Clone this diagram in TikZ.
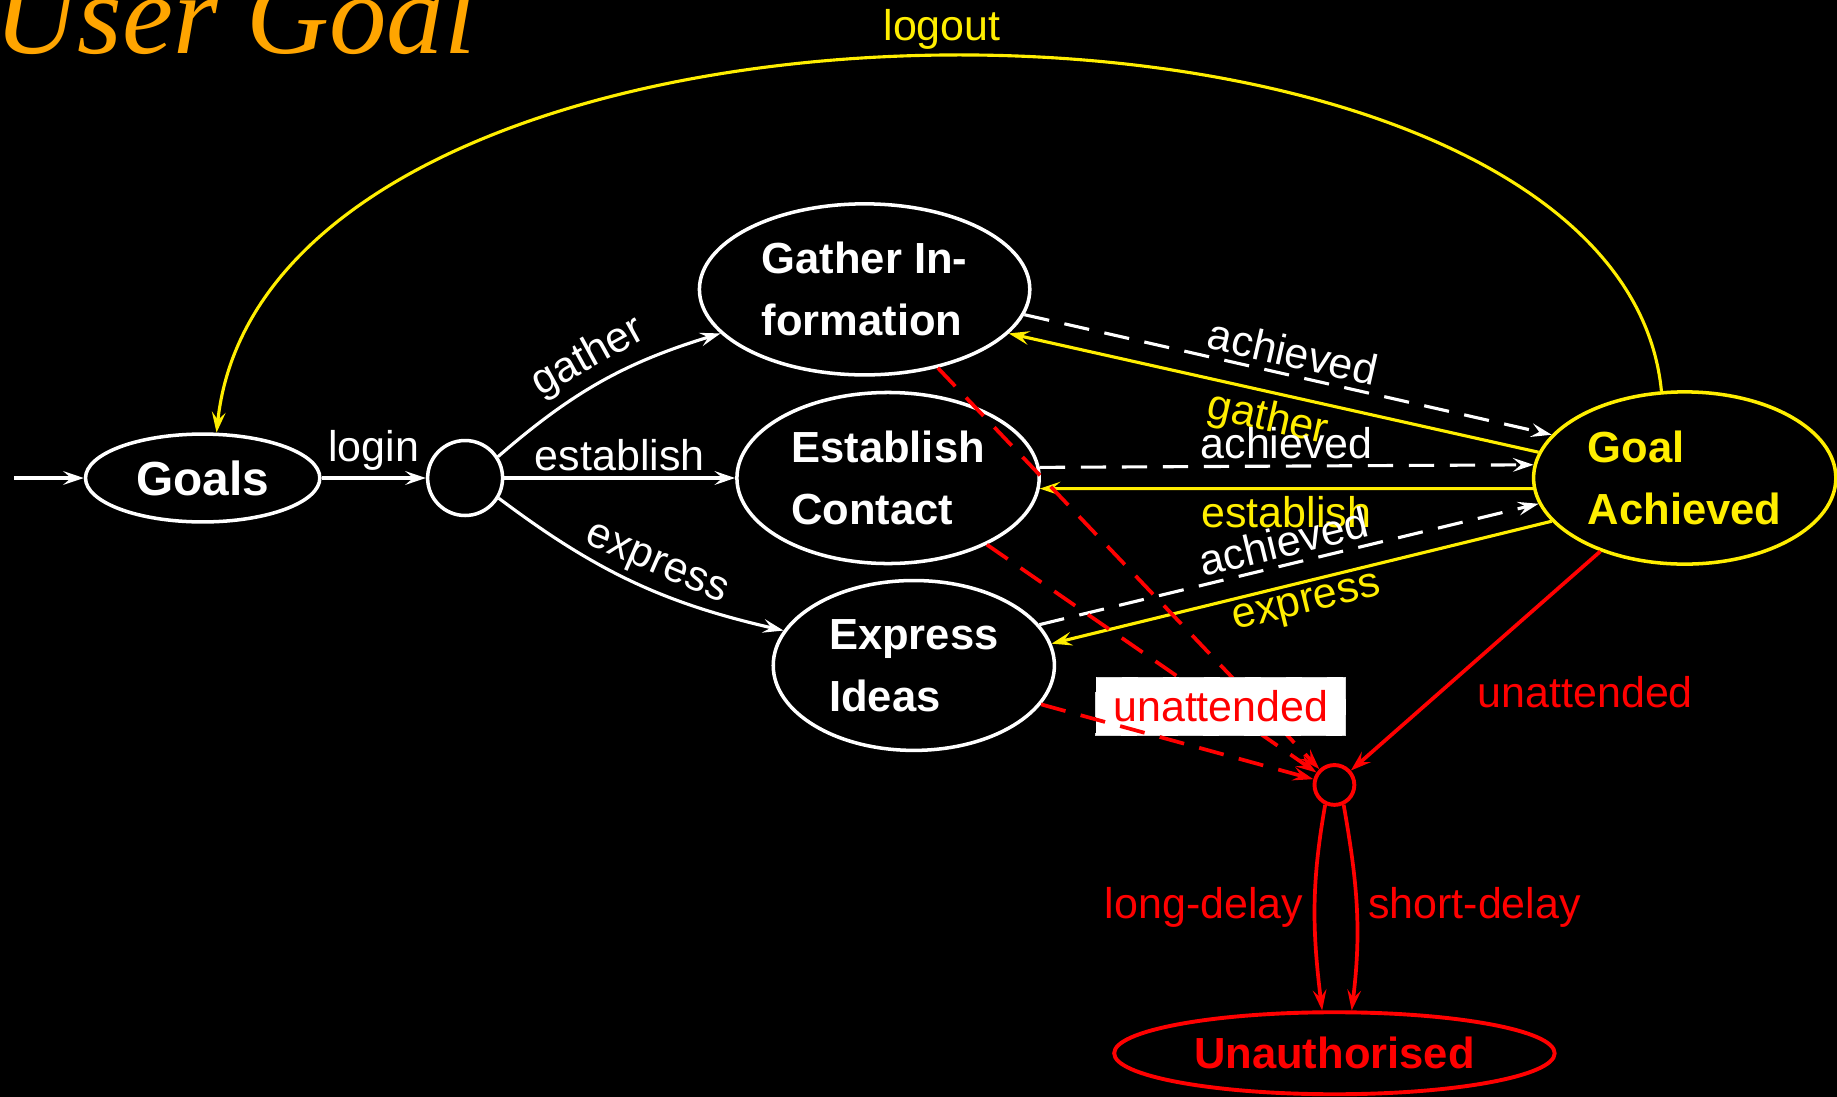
\documentclass[tikz,border=0pt]{standalone}
\usepackage{fontspec}
\setmainfont{Liberation Sans}
\newfontfamily\titlefont{Liberation Serif}
\usetikzlibrary{arrows.meta,shapes.geometric}

\definecolor{goalyellow}{RGB}{255,238,0}
\definecolor{titleorange}{RGB}{255,165,0}
\definecolor{alarmred}{RGB}{255,0,0}

\begin{document}
\begin{tikzpicture}[x=0.6pt,y=-0.6pt,
  >={Stealth[length=10.5pt,width=7pt,inset=4pt]},
  lbl/.style={font=\fontsize{22}{26}\selectfont,inner sep=3pt},
  state/.style={ellipse,draw=white,line width=1.8pt,inner sep=0pt,text=white,
    font=\fontsize{22.3}{31.8}\selectfont\bfseries,align=left},
  flow/.style={->,line width=1.6pt,color=white},
  dflow/.style={flow,dash pattern=on 13pt off 8pt},
  yflow/.style={->,line width=1.6pt,color=goalyellow},
  rflow/.style={->,line width=1.9pt,color=alarmred},
  rdflow/.style={rflow,dash pattern=on 13pt off 8pt},
  boxlabel/.style={lbl,fill=white,draw=white!85!black,line width=0.5pt,
    text=alarmred,inner xsep=9pt,inner ysep=7pt},
]
\useasboundingbox (0,0) rectangle (1568,936);
\fill[black] (0,0) rectangle (1568,936);

% heading
\node[anchor=base west,inner sep=0pt,text=titleorange,
  font=\titlefont\itshape\fontsize{58.8}{62}\selectfont] (title) at (-5,46) {User Goal};

% states
\coordinate (start) at (12,408);
\node[state,minimum width=120pt,minimum height=45pt,font=\fontsize{24.5}{28}\selectfont\bfseries] (goals) at (173,408) {Goals};
\node[circle,draw=white,line width=1.8pt,minimum size=38.4pt,inner sep=0pt] (junc) at (397,408) {};
\node[state,minimum width=169.2pt,minimum height=87.6pt] (gather) at (738,247) {Gather In-\\formation};
\node[state,minimum width=154.8pt,minimum height=87.6pt] (establish) at (758,408) {Establish\\Contact};
\node[state,minimum width=144pt,minimum height=87pt] (express) at (780,568) {Express\\Ideas};
\node[state,draw=goalyellow,text=goalyellow,minimum width=154.8pt,minimum height=88.2pt] (goal) at (1438,408) {Goal\\Achieved};
\node[circle,draw=alarmred,line width=2pt,minimum size=20.4pt,inner sep=0pt] (rc) at (1139,670) {};
\node[state,draw=alarmred,text=alarmred,line width=2pt,minimum width=225.6pt,minimum height=42pt] (unauth) at (1139,899) {Unauthorised};

% entry and branching
\draw[flow] (start) -- (goals);
\draw[flow] (goals) -- node[lbl,above] {login} (junc);
\draw[flow] (junc.33) to[bend left=12] node[lbl,above,sloped] {gather} (gather.197);
\draw[flow] (junc) -- node[lbl,above] {establish} (establish);
\draw[flow] (junc.-31) to[bend right=12] node[lbl,above,sloped,pos=0.55] {express} (express.165);

% activities and goal achieved
\draw[dflow] (gather.-9) -- node[lbl,above,sloped] {achieved} (goal.162.4);
\draw[yflow] (goal.170) -- node[lbl,below,sloped] {gather} (gather.-17);
\draw[dflow] (establish.4.3) -- node[lbl,above] {achieved} (goal.175.6);
\draw[yflow] (goal.184.4) -- node[lbl,below] {establish} (establish.-4.3);
\draw[dflow] (express.18.4) -- node[lbl,above,sloped] {achieved} (goal.190);
\draw[yflow] (goal.198.7) -- node[lbl,below,sloped] {express} (express.9.4);

% logout
\draw[yflow] (goal.105) .. controls (1380,-53) and (230,-53) .. node[lbl,above,pos=0.5] {logout} (goals.73);

% unattended
\draw[rdflow] (gather.-47) -- (rc);
\draw[rdflow] (establish.-34) -- node[boxlabel,pos=0.71] {unattended} (rc);
\draw[rdflow] (express.-17) -- (rc);
\draw[rflow] (goal.221.6) -- node[lbl,pos=0.6,anchor=west,xshift=10pt,yshift=-4.8pt] {unattended} (rc);

% delays
\draw[rflow] (rc.245) to[out=-100,in=97] node[lbl,left,inner xsep=5pt] {long-delay} (unauth.106);
\draw[rflow] (rc.-65) to[out=-80,in=83] node[lbl,right,inner xsep=5pt] {short-delay} (unauth.68);
\end{tikzpicture}
\end{document}
